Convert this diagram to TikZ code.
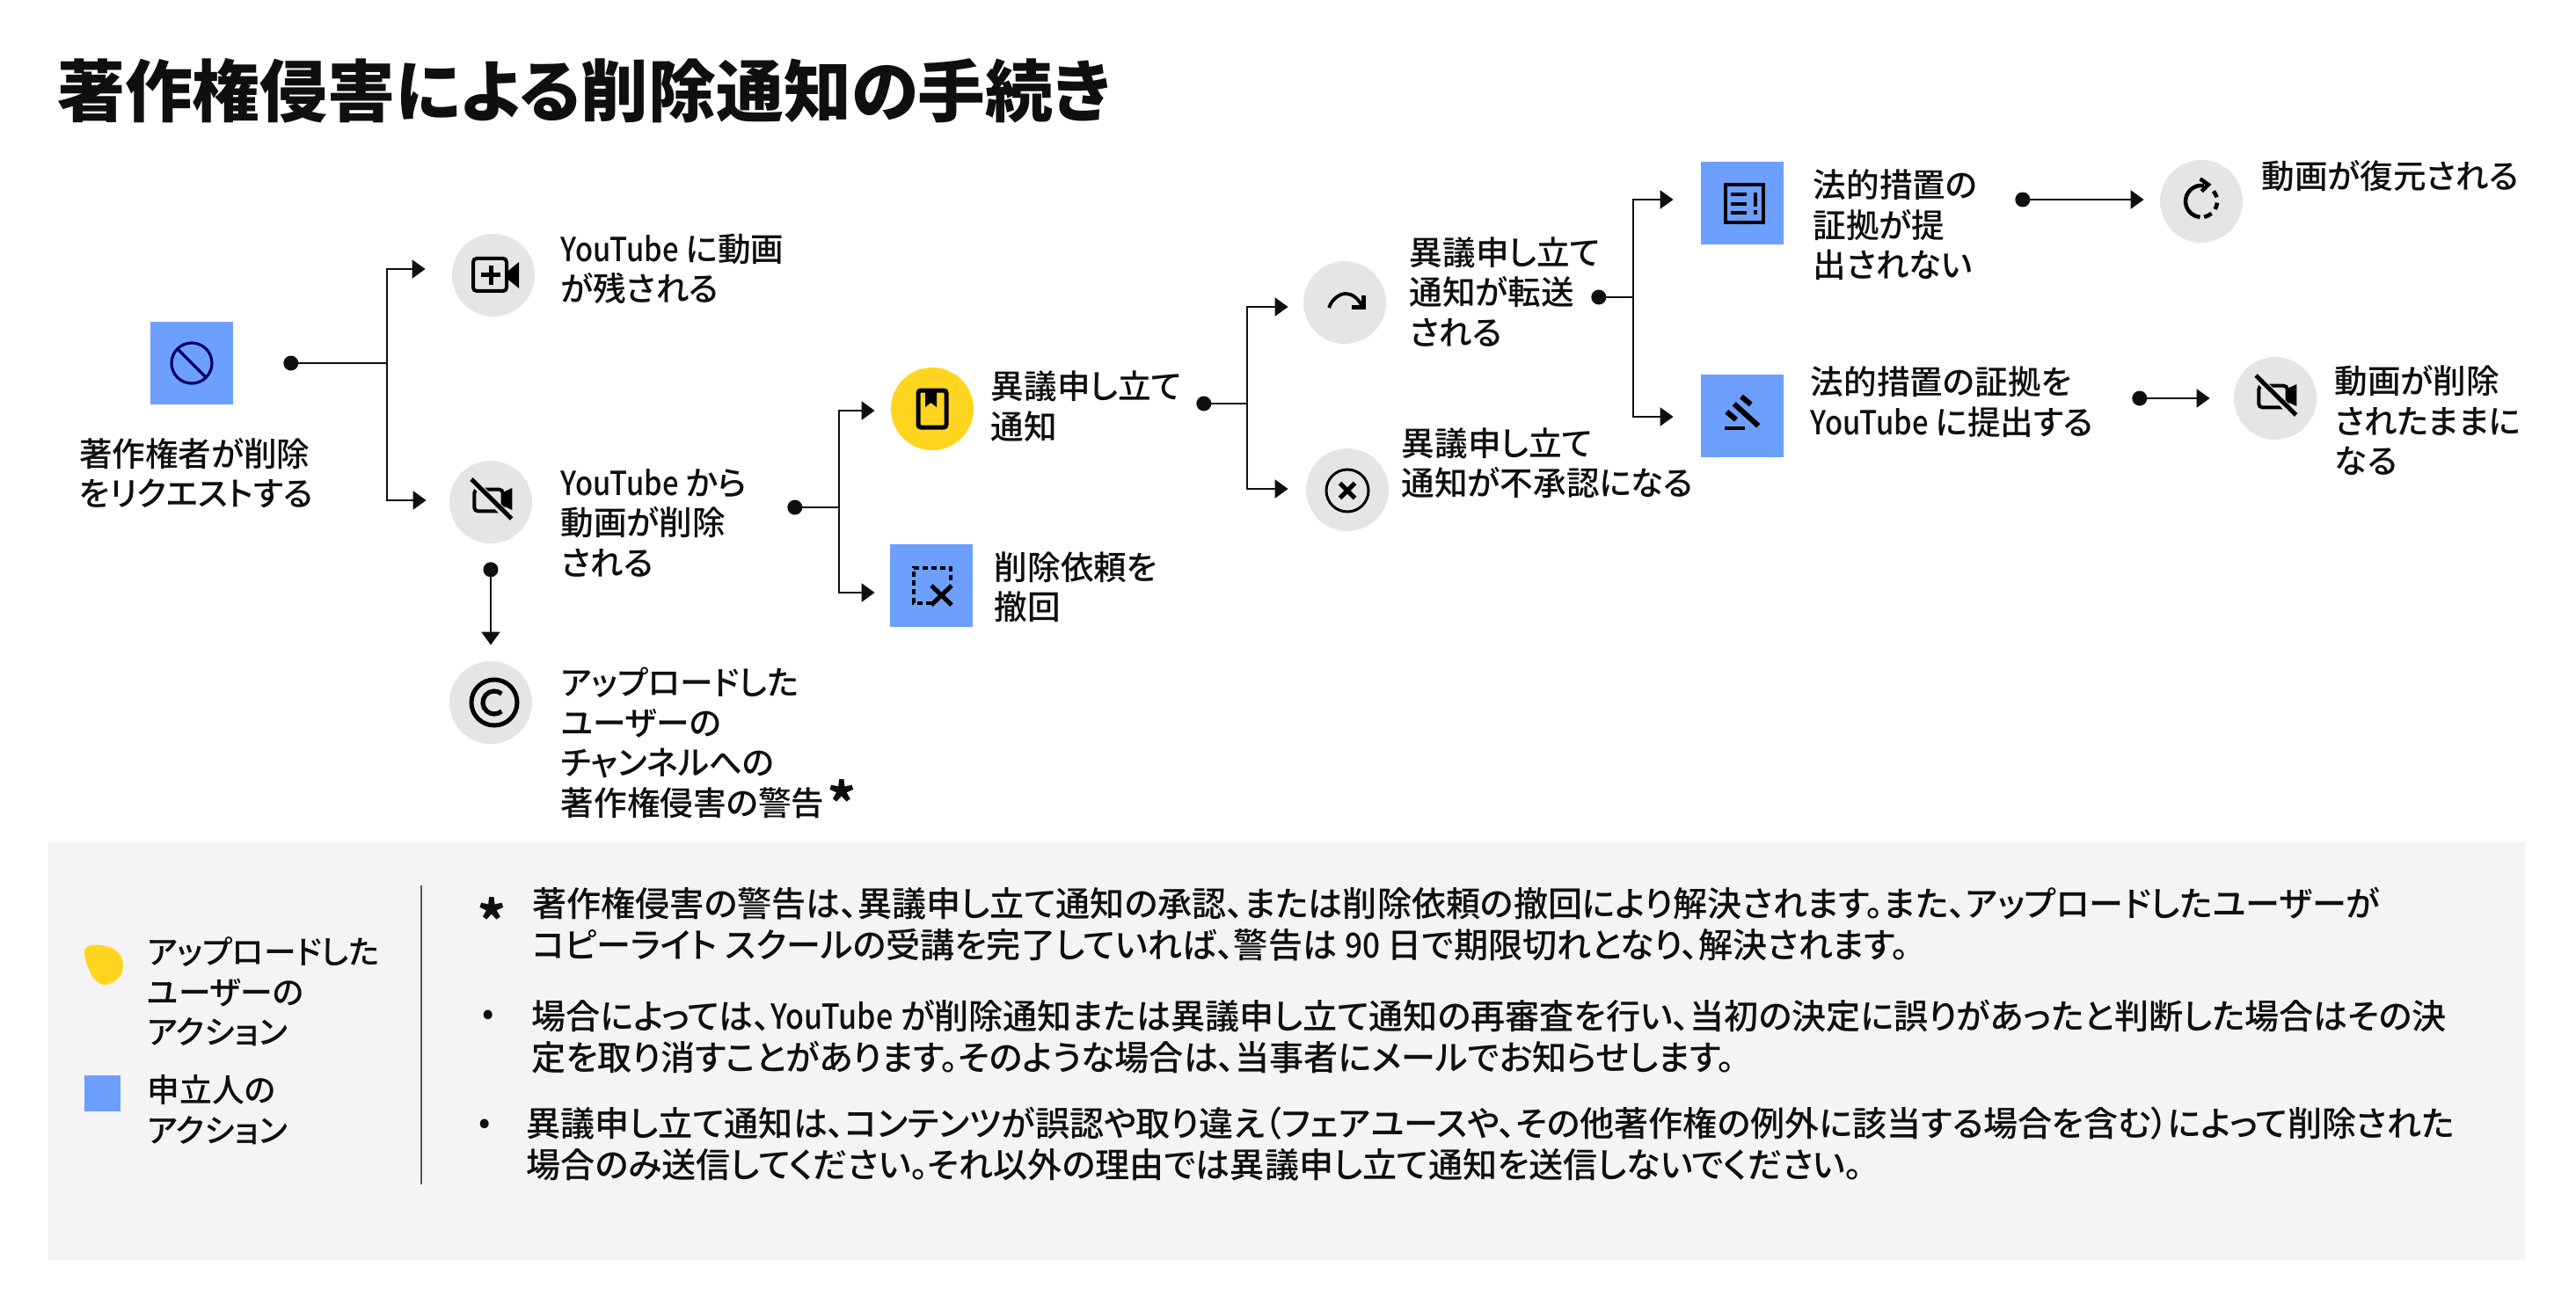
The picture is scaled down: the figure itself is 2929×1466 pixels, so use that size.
\documentclass[tikz,border=0pt]{standalone}
\usepackage{fontspec}
\newfontfamily\jpfont[RawFeature=+palt]{Noto Sans CJK JP Medium}
\newfontfamily\jpbase[RawFeature=+palt]{Noto Sans CJK JP}
\newcommand{\yt}{{\addfontfeature{FakeStretch=0.87}YouTube}}
\usetikzlibrary{arrows.meta,positioning}
\definecolor{ink}{HTML}{0F0F0F}
\definecolor{iconbg}{HTML}{E5E5E7}
\definecolor{actor}{HTML}{6C9FFF}
\definecolor{uploader}{HTML}{FFD51F}
\definecolor{panel}{HTML}{F4F4F4}
\definecolor{navy}{HTML}{030361}
\tikzstyle{rnd}=[circle,fill=iconbg,inner sep=0pt,minimum size=47pt]
\tikzstyle{yrnd}=[circle,fill=uploader,inner sep=0pt,minimum size=47pt]
\tikzstyle{sq}=[rectangle,fill=actor,inner sep=0pt,minimum size=47pt]
\tikzstyle{dot}=[circle,fill=ink,inner sep=0pt,minimum size=8.5pt]
\tikzstyle{txt}=[inner sep=0pt,anchor=west,align=left,text=ink,font=\jpfont\fontsize{18.8}{22.7}\selectfont]
\tikzstyle{note}=[txt,font=\jpfont\fontsize{19.55}{23.7}\selectfont]
\tikzstyle{lgd}=[txt,font=\jpfont\fontsize{18.4}{22.7}\selectfont]
\tikzstyle{star}=[txt,font=\jpbase\bfseries\fontsize{30}{30}\selectfont]
\tikzstyle{arr}=[draw=ink,line width=1.2pt,-{Triangle[length=7.5pt,width=10.5pt]}]
\tikzstyle{ico}=[draw=black,line width=2pt,line cap=butt]
\tikzset{vidoff/.pic={
    \fill[black] (13.7,-11) -- (24.3,-16) -- (24.3,9) -- (13.7,4) -- cycle;
    \draw[ico,rounded corners=2pt] (-18.7,-14.3) rectangle (13.7,10.3);
    \draw[iconbg,line width=4.5pt] (-21,-24) -- (24,21);
    \draw[ico,line width=2.5pt] (-22,-26) -- (23.7,19);
}}

\begin{document}
\begin{tikzpicture}[x=0.5pt,y=-0.5pt]
    \useasboundingbox (0,0) rectangle (2929,1466);
    \node[txt,font=\jpbase\bfseries\fontsize{38.4}{44}\selectfont] (ttl) at (65,103) {著作権侵害による削除通知の手続き};

    % REQUEST PART

    \node[sq]                                    (sq1) at (218,413) {};
    \node[txt,below=18.8pt of sq1,xshift=2.5pt]  (tx0) {著作権者が削除\\をリクエストする};
    \node[dot,right=28.25pt of sq1]              (d1) {};
    \coordinate[right=50.25pt of d1]             (j1);

    \node[rnd]                                   (ic1) at (561,313) {};
    \node[txt,right=14.5pt of ic1,yshift=3.6pt]  (tx1) {\yt{} に動画\\が残される};
    \node[rnd]                                   (ic2) at (558,571) {};
    \node[txt,right=16pt of ic2,yshift=-11.8pt]  (tx2) {\yt{} から\\動画が削除\\される};
    \node[dot,below=10.25pt of ic2]              (d2) {};
    \node[rnd]                                   (ic3) at (558,799) {};
    \node[txt,right=16pt of ic3,yshift=-23pt]    (tx3) {アップロードした\\ユーザーの\\チャンネルへの\\著作権侵害の警告};
    \node[star] (st1) at (941,911) {*};

    \draw[arr] (d1.center) -- (j1) |- ([xshift=-15pt,yshift=3.5pt]ic1.west);
    \draw[arr] (d1.center) -- (j1) |- ([xshift=-13pt,yshift=1pt]ic2.west);
    \draw[arr,shorten >=9pt] (d2.center) -- (ic3.north);

    % NOTICE PART

    \node[dot,right=144.75pt of ic2,yshift=-3pt] (d3) {};
    \coordinate[right=20.75pt of d3]             (j3);
    \node[yrnd]                                  (ic4) at (1060,465) {};
    \node[txt,right=9.5pt of ic4,yshift=1.5pt]   (tx4) {異議申し立て\\通知};
    \node[sq]                                    (sq2) at (1059,666) {};
    \node[txt,right=12pt of sq2,yshift=-0.75pt]  (tx5) {削除依頼を\\撤回};

    \draw[arr] (d3.center) -- (j3) |- ([xshift=-9pt,yshift=-1pt]ic4.west);
    \draw[arr] (d3.center) -- (j3) |- ([xshift=-8.5pt,yshift=-4pt]sq2.west);

    % RESULT PART

    \node[dot,right=126.25pt of ic4,yshift=3pt]  (d4) {};
    \coordinate[right=20.25pt of d4]             (j4);
    \node[rnd]                                   (ic5) at (1529,344) {};
    \node[txt,right=13pt of ic5,yshift=6pt]      (tx6) {異議申し立て\\通知が転送\\される};
    \node[rnd]                                   (ic6) at (1532,557) {};
    \node[txt,right=7pt of ic6,yshift=15.25pt]   (tx7) {異議申し立て\\通知が不承認になる};

    \draw[arr] (d4.center) -- (j4) |- ([xshift=-8.5pt,yshift=-2.5pt]ic5.west);
    \draw[arr] (d4.center) -- (j4) |- ([xshift=-10pt,yshift=0.5pt]ic6.west);

    % LEGAL PART

    \node[dot,right=116.25pt of ic5,yshift=3pt]  (d5) {};
    \coordinate[right=15.25pt of d5]             (j5);
    \node[sq]                                    (sq3) at (1981,231) {};
    \node[txt,right=16.5pt of sq3,yshift=-12.35pt] (tx8) {法的措置の\\証拠が提\\出されない};
    \node[sq]                                    (sq4) at (1981,473) {};
    \node[txt,right=15pt of sq4,yshift=8pt]      (tx9) {法的措置の証拠を\\\yt{} に提出する};
    \node[dot,right=131.25pt of sq3,yshift=2pt]  (d6) {};
    \node[rnd]                                   (ic7) at (2503,229) {};
    \node[txt,right=10.5pt of ic7,yshift=14.5pt] (tx10) {動画が復元される};
    \node[dot,right=197.75pt of sq4,yshift=10pt] (d7) {};
    \node[rnd]                                   (ic8) at (2587,453) {};
    \node[txt,right=10pt of ic8,yshift=-12.5pt]  (tx11) {動画が削除\\されたままに\\なる};

    \draw[arr] (d5.center) -- (j5) |- ([xshift=-15.5pt,yshift=2pt]sq3.west);
    \draw[arr] (d5.center) -- (j5) |- ([xshift=-15.5pt,yshift=-0.5pt]sq4.west);
    \draw[arr,shorten >=9pt] (d6.center) -- (d6.center -| ic7.west);
    \draw[arr,shorten >=13.5pt] (d7.center) -- (d7.center -| ic8.west);

    % ICONS

    \begin{scope}[shift={(sq1.center)}]
        \draw[navy,line width=1.6pt] (0,0) circle[radius=11.5pt];
        \draw[navy,line width=1.6pt] (-16,-16) -- (16,16);
    \end{scope}
    \begin{scope}[shift={(ic1.center)}]
        \draw[ico,rounded corners=2pt] (-23,-19) rectangle (15,18);
        \draw[ico,line width=2.5pt] (-14,0) -- (8,0);
        \draw[ico,line width=2.5pt] (-3,-11) -- (-3,11);
        \fill[black] (17,-5) -- (29,-15) -- (29,15) -- (17,5) -- cycle;
    \end{scope}
    \pic at (ic2.center) {vidoff};
    \pic at (ic8.center) {vidoff};
    \begin{scope}[shift={(ic3.center)}]
        \draw[ico,line width=2.5pt] (4,0) circle[radius=13pt];
        \draw[ico,line width=2.6pt] ([shift={(50:6.5pt)}]4,0) arc[start angle=50,end angle=310,radius=6.5pt];
    \end{scope}
    \begin{scope}[shift={(ic4.center)}]
        \draw[ico,line width=2.5pt,rounded corners=1.5pt] (-16,-21) rectangle (16,21);
        \fill[black] (-8,-21) -- (5,-21) -- (5,-2) -- (-1.5,-7) -- (-8,-2) -- cycle;
    \end{scope}
    \begin{scope}[shift={(sq2.center)}]
        \draw[ico,dash pattern=on 3pt off 2pt] (0,20) -- (-20,20) -- (-20,-20) -- (22,-20) -- (22,-3);
        \draw[ico,line width=2.5pt] (0,0) -- (23,22);
        \draw[ico,line width=2.5pt] (23,0) -- (0,22);
    \end{scope}
    \begin{scope}[shift={(ic5.center)}]
        \draw[ico,line width=1.9pt] (-18,6) .. controls (-14,-5) and (-5,-10) .. (1,-10) .. controls (8,-10) and (15,-5) .. (19,3);
        \draw[ico,line width=2.5pt] (21,-8) -- (21,5.3) -- (7.7,5.3);
    \end{scope}
    \begin{scope}[shift={(ic6.center)}]
        \draw[ico,line width=1.5pt] (0,1) circle[radius=12pt];
        \draw[ico,line width=2.5pt] (-8.5,-7.5) -- (8.5,9.5);
        \draw[ico,line width=2.5pt] (8.5,-7.5) -- (-8.5,9.5);
    \end{scope}
    \begin{scope}[shift={(sq3.center)}]
        \draw[ico] (-19,-21) rectangle (24,22);
        \draw[ico,line width=2.25pt] (-13,-10) -- (5,-10);
        \draw[ico,line width=2.25pt] (-13,1) -- (5,1);
        \draw[ico,line width=2.25pt] (-13,11) -- (5,11);
        \draw[ico,line width=2.25pt] (15,-12) -- (15,4);
        \draw[ico,line width=2.25pt] (15,8) -- (15,13);
    \end{scope}
    \begin{scope}[shift={(sq4.center)}]
        \draw[ico,line width=3pt] (-1,-22) -- (9.7,-13);
        \draw[ico,line width=3pt] (-9.3,-13.7) -- (18.3,11.3);
        \draw[ico,line width=3pt] (-17.7,-4.7) -- (-7,4.3);
        \draw[ico,line width=2.25pt] (-19.7,14) -- (3,14);
    \end{scope}
    \begin{scope}[shift={(ic7.center)}]
        \draw[ico,line width=2.25pt] (80:9pt) arc[start angle=80,end angle=265,radius=9pt];
        \draw[ico,line width=2.25pt] (-80:9pt) arc[start angle=-80,end angle=-50,radius=9pt];
        \draw[ico,line width=2.25pt] (-30:9pt) arc[start angle=-30,end angle=-5,radius=9pt];
        \draw[ico,line width=2.25pt] (15:9pt) arc[start angle=15,end angle=40,radius=9pt];
        \draw[ico,line width=2.25pt] (-1.3,-25.6) -- (8,-19) -- (0.3,-11.3);
    \end{scope}

    % PANEL PART

    \fill[panel] (55,958) rectangle (2871,1433);
    \draw[black!65,line width=1pt] (479,1007) -- (479,1347);
    \fill[uploader] (96,1082) .. controls (97,1075) and (105,1074) .. (114,1075) .. controls (130,1076) and (140,1085) .. (140,1098) .. controls (140,1112) and (128,1120) .. (118,1120) .. controls (108,1120) and (97,1100) .. cycle;
    \node[rectangle,fill=actor,inner sep=0pt,minimum size=20.5pt] (lg2) at (116,1243) {};
    \node[lgd] (lt1) at (167,1128) {アップロードした\\ユーザーの\\アクション};
    \node[lgd] (lt2) at (167,1262) {申立人の\\アクション};
    \node[star] (st2) at (543,1045) {*};
    \node[note] (nt1) at (605,1051) {著作権侵害の警告は、異議申し立て通知の承認、または削除依頼の撤回により解決されます。また、アップロードしたユーザーが\\コピーライト スクールの受講を完了していれば、警告は {\addfontfeature{FakeStretch=0.9}90} 日で期限切れとなり、解決されます。};
    \node[txt] (bl1) at (548,1157) {•};
    \node[note] (nt2) at (604,1179) {場合によっては、\yt{} が削除通知または異議申し立て通知の再審査を行い、当初の決定に誤りがあったと判断した場合はその決\\定を取り消すことがあります。そのような場合は、当事者にメールでお知らせします。};
    \node[txt] (bl2) at (544,1281) {•};
    \node[note] (nt3) at (598,1301) {異議申し立て通知は、コンテンツが誤認や取り違え（フェアユースや、その他著作権の例外に該当する場合を含む）によって削除された\\場合のみ送信してください。それ以外の理由では異議申し立て通知を送信しないでください。};
\end{tikzpicture}
\end{document}
